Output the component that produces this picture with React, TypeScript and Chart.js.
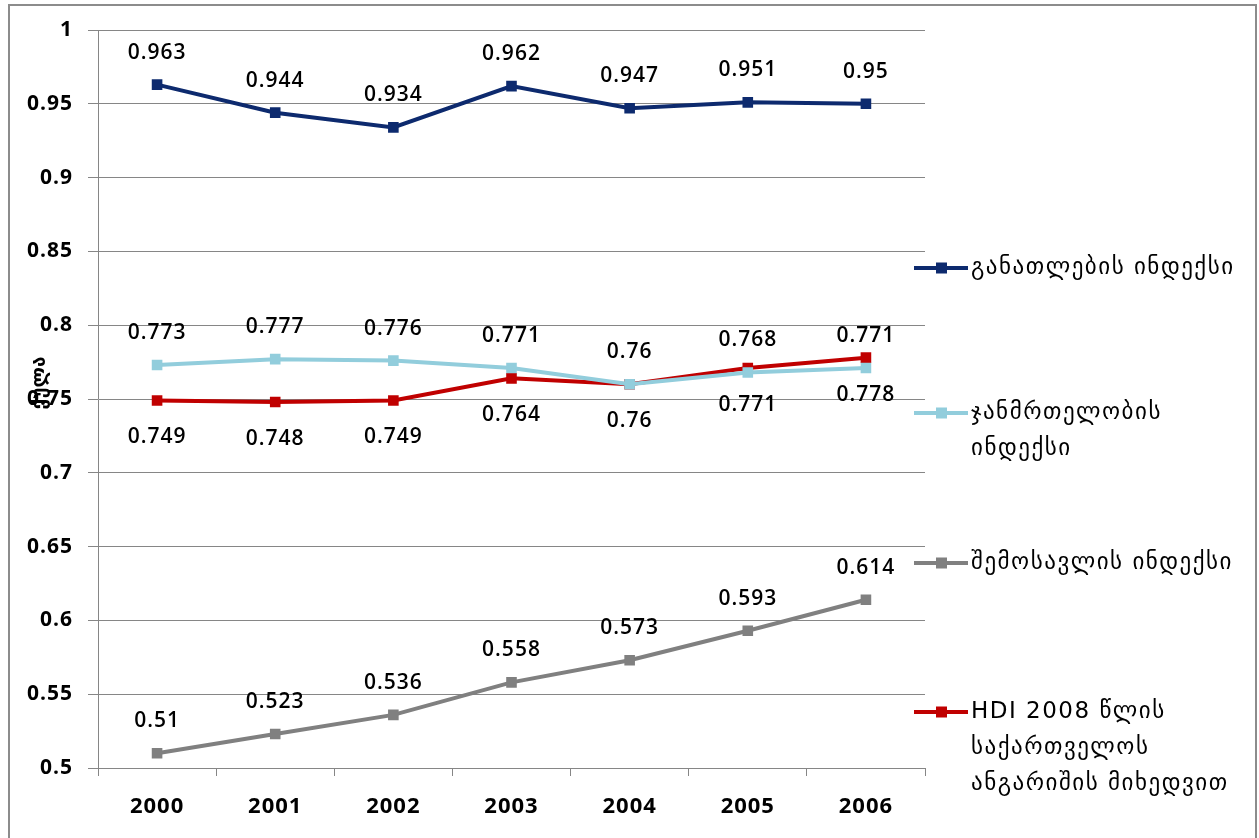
import React, { useEffect, useRef } from "react";
import { Chart, registerables } from "chart.js";

Chart.register(...registerables);

const years = ["2000", "2001", "2002", "2003", "2004", "2005", "2006"];
const education = [0.963, 0.944, 0.934, 0.962, 0.947, 0.951, 0.95];
const health = [0.773, 0.777, 0.776, 0.771, 0.76, 0.768, 0.771];
const income = [0.51, 0.523, 0.536, 0.558, 0.573, 0.593, 0.614];
const hdi = [0.749, 0.748, 0.749, 0.764, 0.76, 0.771, 0.778];

const seriesNames = [
  ["განათლების ინდექსი"],
  ["ჯანმრთელობის", "ინდექსი"],
  ["შემოსავლის ინდექსი"],
  ["HDI 2008 წლის", "საქართველოს", "ანგარიშის მიხედვით"],
];
const seriesColors = ["#0D2A6E", "#92CDDC", "#808080", "#C00000"];
const labelBelow = [false, false, false, true];
const yTicks = [0.5, 0.55, 0.6, 0.65, 0.7, 0.75, 0.8, 0.85, 0.9, 0.95, 1];
const yTitle = "ქულა";

const FONT = "'Open Sans', 'DejaVu Sans', sans-serif";
const GEO_FONT = "'DejaVu Sans', 'Open Sans', sans-serif";

const extrasPlugin = {
  id: "extras",
  beforeDraw(chart: any) {
    const ctx = chart.ctx;
    ctx.save();
    ctx.fillStyle = "#ffffff";
    ctx.fillRect(0, 0, chart.width, chart.height);
    ctx.strokeStyle = "#8c8c8c";
    ctx.lineWidth = 2;
    ctx.strokeRect(9, 5, chart.width - 12, chart.height + 20);
    ctx.restore();
    (ctx as any).letterSpacing = "1px";
  },
  afterDatasetsDraw(chart: any) {
    const ctx = chart.ctx;
    ctx.save();
    (ctx as any).letterSpacing = "1px";
    ctx.font = `600 21px ${FONT}`;
    ctx.fillStyle = "#000000";
    ctx.textAlign = "center";
    ctx.textBaseline = "middle";
    chart.data.datasets.forEach((ds: any, i: number) => {
      const meta = chart.getDatasetMeta(i);
      meta.data.forEach((pt: any, j: number) => {
        const v = ds.data[j];
        const below = labelBelow[i];
        ctx.fillText(String(v), pt.x, below ? pt.y + 37 : pt.y - 32);
      });
    });
    ctx.restore();

    // y-axis title
    ctx.save();
    (ctx as any).letterSpacing = "0px";
    ctx.translate(40, 383);
    ctx.rotate(-Math.PI / 2);
    ctx.font = `bold 19px ${GEO_FONT}`;
    ctx.fillStyle = "#000";
    ctx.textAlign = "center";
    ctx.textBaseline = "middle";
    ctx.fillText(yTitle, 0, 0);
    ctx.restore();

    // legend
    ctx.save();
    (ctx as any).letterSpacing = "1.5px";
    const legendY = [268, 413, 563, 712];
    const lineH = 36;
    [0, 1, 2, 3].forEach((k, idx) => {
      const y = legendY[idx];
      const color = seriesColors[k];
      ctx.strokeStyle = color;
      ctx.lineWidth = 4;
      ctx.beginPath();
      ctx.moveTo(914, y);
      ctx.lineTo(968, y);
      ctx.stroke();
      ctx.fillStyle = color;
      ctx.fillRect(936, y - 5.5, 11, 11);
      ctx.fillStyle = "#000";
      ctx.font = `23px ${GEO_FONT}`;
      ctx.textAlign = "left";
      ctx.textBaseline = "middle";
      seriesNames[k].forEach((line, li) => {
        ctx.fillText(line, 971, y + li * lineH);
      });
    });
    ctx.restore();
  },
};

export default function App() {
  const ref = useRef<HTMLCanvasElement | null>(null);
  useEffect(() => {
    document.body.style.margin = "0";
    const canvas = ref.current!;
    const mk = (label: string, data: number[], color: string) => ({
      label,
      data,
      borderColor: color,
      backgroundColor: color,
      borderWidth: 4,
      pointStyle: "rect" as const,
      pointRadius: 7.5,
      pointHoverRadius: 7.5,
      pointBorderWidth: 0,
      tension: 0,
    });
    const chart = new Chart(canvas, {
      type: "line",
      data: {
        labels: years,
        datasets: [
          mk(seriesNames[0].join(" "), education, seriesColors[0]),
          mk(seriesNames[1].join(" "), health, seriesColors[1]),
          mk(seriesNames[2].join(" "), income, seriesColors[2]),
          mk(seriesNames[3].join(" "), hdi, seriesColors[3]),
        ],
      },
      options: {
        animation: false,
        responsive: false,
        devicePixelRatio: 1,
        layout: { padding: { top: 30, right: 334, left: 0, bottom: 0 } },
        plugins: {
          legend: { display: false },
          tooltip: { enabled: false },
        },
        scales: {
          x: {
            offset: true,
            grid: {
              offset: true,
              drawOnChartArea: false,
              drawTicks: true,
              tickLength: 8,
              color: "#868686",
            },
            border: { color: "#868686", width: 1 },
            ticks: {
              color: "#000",
              font: { family: FONT, size: 22, weight: "bold" },
              padding: 18,
            },
            afterFit(scale: any) {
              scale.height = 70;
            },
          },
          y: {
            min: 0.5,
            max: 1,
            afterBuildTicks(scale: any) {
              scale.ticks = yTicks.map((v) => ({ value: v }));
            },
            grid: {
              color: "#868686",
              tickLength: 10,
              drawTicks: true,
            },
            border: { color: "#868686", width: 1 },
            ticks: {
              color: "#000",
              font: { family: FONT, size: 21, weight: "bold" },
              padding: 15,
              callback: (v: any) => String(Number(v)),
            },
            afterFit(scale: any) {
              scale.width = 98;
            },
          },
        },
      },
      plugins: [extrasPlugin],
    });
    return () => chart.destroy();
  }, []);
  return (
    <div style={{ position: "relative", width: 1259, height: 838 }}>
      <canvas ref={ref} width={1259} height={838} style={{ display: "block" }} />
    </div>
  );
}
